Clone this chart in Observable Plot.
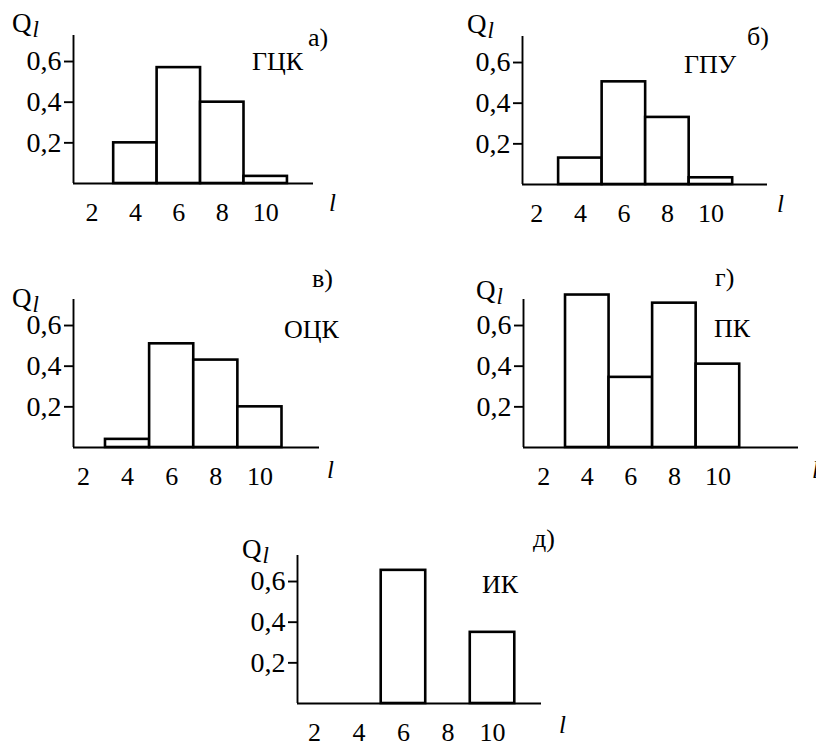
<!DOCTYPE html>
<html><head><meta charset="utf-8">
<script src="https://cdn.jsdelivr.net/npm/d3@7"></script>
<script src="https://cdn.jsdelivr.net/npm/@observablehq/plot@0.6"></script>
<style>
body{margin:0;background:#fff;}
#root{position:relative;width:816px;height:741px;overflow:hidden;background:#fff;font-family:"Liberation Serif","Times New Roman",serif;}
#root .panel{position:absolute;}
#overlay{position:absolute;left:0;top:0;}
</style></head><body><div id="root"></div>
<script>
// ---- data ----
const lengths = [4, 6, 8, 10];           // bin centres l (bin width 2)
const xTicks = [2, 4, 6, 8, 10];
const yTicks = [0.2, 0.4, 0.6];
const panelIds = ["а)", "б)", "в)", "г)", "д)"];
const structures = ["ГЦК", "ГПУ", "ОЦК", "ПК", "ИК"];
const qA = [0.2, 0.57, 0.4, 0.035];
const qB = [0.13, 0.505, 0.33, 0.033];
const qV = [0.04, 0.51, 0.43, 0.2];
const qG = [0.75, 0.345, 0.71, 0.41];
const qD = [0, 0.655, 0, 0.35];
const series = [qA, qB, qV, qG, qD];
const xStart = [1.15, 1.34, 1.55, 1.07, 1.24];
const xEnd = [12.2, 12.6, 12.7, 13.7, 12.2];
const yTop = 0.728;

// ---- layout (pixels) ----
const mL = 70, mT = 30, mB = 50, mR = 30, frameH = 148;
const layout = [
  {left: 3,   base: 183, w: 240},
  {left: 452, base: 184, w: 245},
  {left: 3,   base: 447, w: 246},
  {left: 453, base: 447, w: 275},
  {left: 227, base: 703, w: 244}
];
const notes = [
  {q: [12, 32],   id: [308, 46],  s: [252, 70],  l: [329, 211]},
  {q: [467, 33],  id: [747, 45],  s: [684, 73],  l: [777, 212]},
  {q: [12, 307],  id: [312, 287], s: [284, 338], l: [327, 478]},
  {q: [476, 299], id: [715, 286], s: [714, 337], l: [812, 478]},
  {q: [242, 558], id: [533, 547], s: [482, 593], l: [559, 733]}
];

const root = document.getElementById("root");
const fmt = d => d.toFixed(1).replace(".", ",");

series.forEach((vals, i) => {
  const data = lengths.map((l, j) => ({l, q: vals[j]})).filter(d => d.q > 0);
  const L = layout[i];
  const chart = Plot.plot({
    width: mL + L.w + mR,
    height: mT + frameH + mB,
    marginLeft: mL, marginRight: mR, marginTop: mT, marginBottom: mB,
    style: {fontFamily: "'Liberation Serif', 'Times New Roman', serif", fontSize: "26px", background: "transparent", overflow: "visible", color: "#000"},
    x: {domain: [xStart[i], xEnd[i]]},
    y: {domain: [0, yTop]},
    marks: [
      Plot.rect(data, {x1: d => d.l - 1, x2: d => d.l + 1, y1: 0, y2: "q", fill: "white", stroke: "black", strokeWidth: 2.6}),
      Plot.ruleY([0], {stroke: "black", strokeWidth: 1.9}),
      Plot.ruleX([xStart[i]], {stroke: "black", strokeWidth: 1.9}),
      Plot.axisX(xTicks, {tickSize: 0, tickPadding: 19, label: null, fill: "black", fontSize: 26}),
      Plot.axisY(yTicks, {tickSize: 9, tickPadding: 3, tickFormat: fmt, label: null, stroke: "black", strokeWidth: 1.9, fill: "black", fontSize: 28})
    ]
  });
  chart.classList.add("panel");
  chart.style.left = L.left + "px";
  chart.style.top = (L.base - frameH - mT) + "px";
  root.appendChild(chart);
});

// ---- text overlay ----
const ns = "http://www.w3.org/2000/svg";
const ov = document.createElementNS(ns, "svg");
ov.setAttribute("id", "overlay");
ov.setAttribute("width", 816);
ov.setAttribute("height", 741);
ov.style.fontFamily = "'Liberation Serif', 'Times New Roman', serif";
function addText(x, y, str, size, italic) {
  const t = document.createElementNS(ns, "text");
  t.setAttribute("x", x); t.setAttribute("y", y);
  t.setAttribute("font-size", size);
  if (italic) t.setAttribute("font-style", "italic");
  t.textContent = str;
  ov.appendChild(t);
  return t;
}
notes.forEach((n, i) => {
  const q = addText(n.q[0], n.q[1], "Q", 27, false);
  const sub = document.createElementNS(ns, "tspan");
  sub.setAttribute("font-style", "italic");
  sub.setAttribute("font-size", 23);
  sub.setAttribute("dx", 1);
  sub.setAttribute("dy", 5);
  sub.textContent = "l";
  q.appendChild(sub);
  addText(n.id[0], n.id[1], panelIds[i], 26, false);
  addText(n.s[0], n.s[1], structures[i], 26, false);
  addText(n.l[0], n.l[1], "l", 25, true);
});
root.appendChild(ov);
</script></body></html>
